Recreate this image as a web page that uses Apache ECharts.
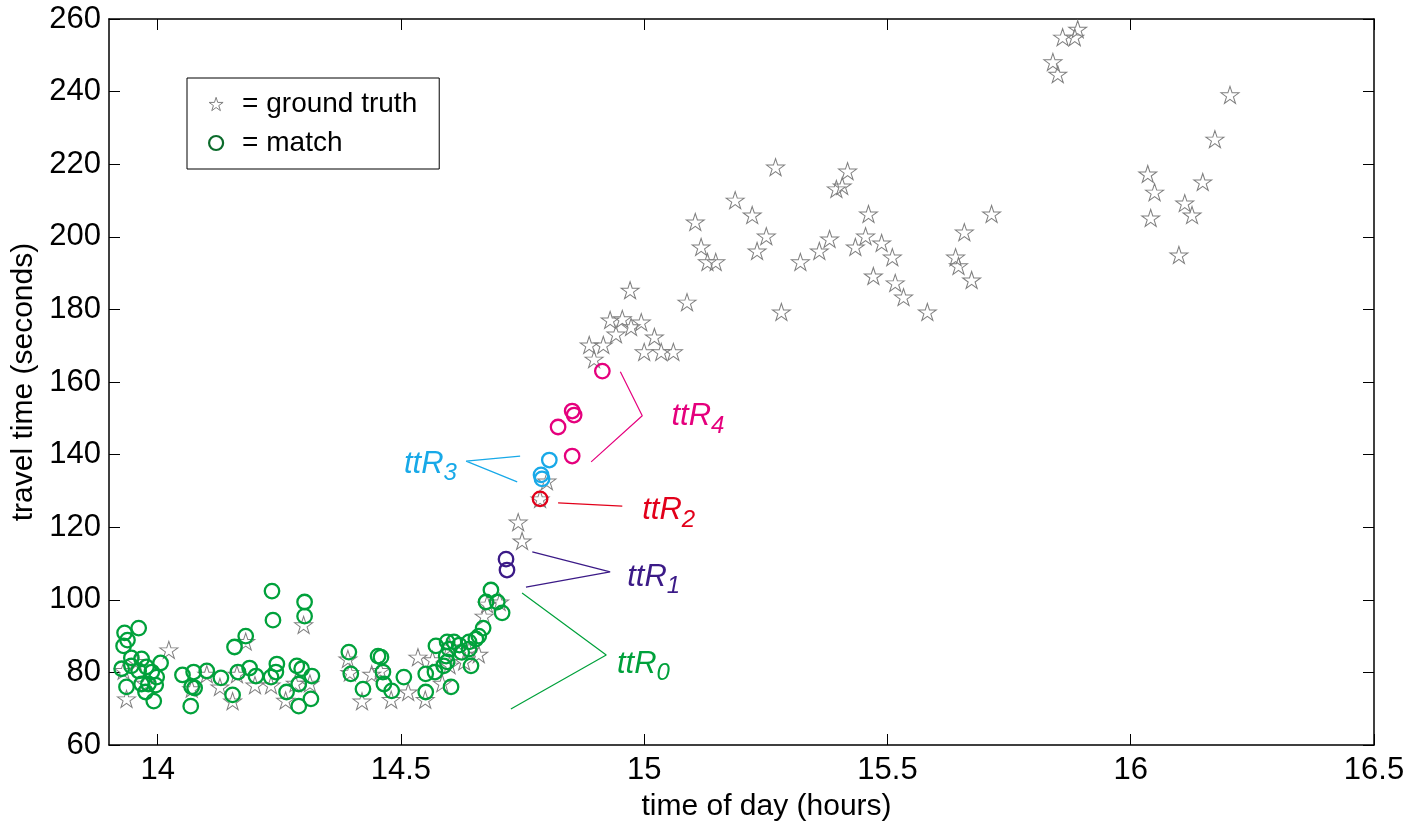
<!DOCTYPE html>
<html>
<head>
<meta charset="utf-8">
<script src="https://cdn.jsdelivr.net/npm/echarts@6/dist/echarts.min.js"></script>
<style>
html,body{margin:0;padding:0;background:#fff;}
#chart{width:1424px;height:829px;}
</style>
</head>
<body>
<div id="chart"></div>
<script>
// ---------- data ----------
const xTicks = [14, 14.5, 15, 15.5, 16, 16.5];
const yTicks = [60, 80, 100, 120, 140, 160, 180, 200, 220, 240, 260];

const groundTruth = [
  [13.936,72.7],[13.93,80.5],[13.955,83],[14.023,86.2],[13.975,77],[14.07,75.5],[14.101,79.5],[14.128,76],
  [14.154,72.1],[14.181,88.5],[14.163,79.5],[14.200,76.5],[14.233,76.5],[14.263,72.3],[14.283,77],[14.313,77],
  [14.300,93.1],[14.391,83.7],[14.395,80],[14.420,72.1],[14.44,79.5],[14.48,72.5],[14.515,74.6],[14.535,84.2],
  [14.550,72.5],[14.565,83.5],[14.585,77],[14.60,82],[14.63,83],[14.671,95.5],[14.703,99.4],[14.677,98.8],
  [14.66,85],[14.64,86],[14.458,80.5],[14.60,87],
  [14.741,121.4],[14.749,116.2],[14.786,127.8],[14.800,132.7],
  [14.887,170.2],[14.916,170.2],[14.897,166.3],[14.930,177.1],[14.955,177.4],[14.994,176.5],[14.973,175.2],
  [14.942,173.2],[15.021,172.4],[14.971,185.3],[15.0,168.3],[15.035,168.3],[15.060,168.3],[15.088,182.0],
  [15.105,204.1],[15.117,197.2],[15.130,193.1],[15.147,193.1],[15.187,210.1],[15.222,206.0],[15.232,196.1],
  [15.251,200.2],[15.270,219.2],[15.282,179.3],[15.321,193.1],[15.360,196.1],[15.381,199.4],[15.395,213.2],
  [15.407,214.0],[15.418,218.1],[15.434,197.2],[15.455,200.2],[15.461,206.3],[15.488,198.3],[15.471,189.2],
  [15.510,194.4],[15.516,187.3],[15.533,183.4],[15.582,179.3],[15.640,194.4],[15.646,192.0],[15.658,201.3],
  [15.673,188.1],[15.714,206.3],[15.840,248.2],[15.850,244.8],[15.860,255.0],[15.885,255.0],[15.891,257.2],
  [16.035,217.3],[16.049,212.3],[16.041,205.2],[16.099,195.0],[16.111,209.3],[16.126,206.0],[16.148,215.1],
  [16.173,226.9],[16.204,239.1]
];

const matchR0 = [
  [13.932,90.9],[13.961,92.2],[13.938,88.9],[13.930,87.3],[13.946,84.0],[13.926,81.0],[13.967,83.7],[14.006,82.6],
  [13.946,81.8],[13.977,81.5],[13.988,80.1],[13.961,80.4],[13.998,78.7],[13.936,76.0],[13.967,76.8],[13.981,76.8],
  [13.996,76.5],[13.975,74.6],[13.992,72.1],[14.051,79.3],[14.074,80.1],[14.101,80.4],[14.070,76.0],[14.076,75.7],
  [14.068,70.7],[14.130,78.5],[14.154,73.8],[14.158,87.0],[14.181,90.0],[14.165,80.1],[14.189,81.2],[14.202,79.0],
  [14.235,102.4],[14.237,94.4],[14.245,82.3],[14.243,80.1],[14.233,78.7],[14.265,74.6],[14.286,81.8],[14.296,81.0],
  [14.290,76.8],[14.290,70.7],[14.315,72.7],[14.302,99.4],[14.302,95.5],[14.317,79.0],
  [14.393,85.6],[14.397,79.6],[14.422,75.4],[14.453,84.5],[14.459,84.2],[14.463,80.1],[14.465,76.8],[14.481,74.9],
  [14.506,78.7],[14.551,79.6],[14.551,74.6],[14.570,80.1],[14.572,87.3],[14.588,81.8],[14.593,84.5],[14.595,88.4],
  [14.595,82.9],[14.599,86.4],[14.609,88.4],[14.603,76.0],[14.640,88.4],[14.644,81.8],[14.640,86.4],[14.654,89.2],
  [14.660,90.0],[14.669,92.2],[14.685,102.7],[14.675,99.4],[14.698,99.4],[14.708,96.4],[14.62,87.5],[14.625,85.5]
];
const matchR1 = [[14.716,111.2],[14.718,108.2]];
const matchR2 = [[14.786,127.8]];
const matchR3 = [[14.805,138.5],[14.788,134.4],[14.790,133.3]];
const matchR4 = [[14.914,163.0],[14.852,152.0],[14.856,150.9],[14.823,147.6],[14.852,139.6]];

// leader lines (data coordinates) and label anchors
const leaderR0 = [[14.749,101.9],[14.922,84.8],[14.726,69.9]];
const leaderR1 = [[14.770,113.2],[14.930,107.7],[14.757,103.5]];
const leaderR2 = [[14.823,126.7],[14.955,125.8]];
const leaderR3 = [[14.745,139.6],[14.634,138.2],[14.739,132.5]];
const leaderR4 = [[14.951,162.8],[14.996,150.7],[14.891,138.0]];
const labelNames = ['0','1','2','3','4'];
const labelAnchors = [[14.944,82.3],[14.965,106.3],[14.996,124.5],[14.615,137.4],[15.056,150.4]];

// ---------- styles ----------
const FONT = 'Liberation Sans, Arial, Helvetica, sans-serif';
const C = ['#00a13b', '#3b1a87', '#e2001a', '#18a9e8', '#e5007d'];
const STAR = 'path://M50,0 L61.2,34.5 L97.6,34.5 L68.2,55.9 L79.4,90.5 L50,69.1 L20.6,90.5 L31.8,55.9 L2.4,34.5 L38.8,34.5 Z';

function circleSeries(name, data, color) {
  return {
    type: 'scatter', name: name, data: data, symbol: 'circle', symbolSize: 14.5, z: 3,
    itemStyle: { color: 'rgba(0,0,0,0)', borderColor: color, borderWidth: 2.3, opacity: 1 },
    emphasis: { disabled: true }
  };
}
function leaderSeries(data, color) {
  return {
    type: 'line', data: data, symbol: 'none', z: 1, silent: true,
    lineStyle: { color: color, width: 1.2, opacity: 1 }
  };
}
function labelSeries(idx) {
  return {
    type: 'scatter', data: [labelAnchors[idx]], symbolSize: 0, silent: true, z: 4,
    itemStyle: { opacity: 1 },
    label: {
      show: true, position: idx === 3 ? 'left' : 'right', distance: 0, opacity: 1,
      formatter: '{a|ttR}{b|' + labelNames[idx] + '}',
      rich: {
        a: { fontSize: 31, fontStyle: 'italic', color: C[idx], fontFamily: FONT, lineHeight: 31, verticalAlign: 'top' },
        b: { fontSize: 24, fontStyle: 'italic', color: C[idx], fontFamily: FONT, lineHeight: 24, padding: [13, 0, 0, 0], verticalAlign: 'top' }
      }
    }
  };
}

const axisLineStyle = { color: '#000', width: 1.5 };
const tickStyle = { color: '#000', width: 1 };

const option = {
  animation: false,
  textStyle: { fontFamily: FONT },
  grid: { left: 109, right: 50, top: 19, bottom: 84, containLabel: false },
  legend: {
    left: 187, top: 78, orient: 'vertical',
    padding: [12, 22, 12, 21], itemGap: 11, itemWidth: 14, itemHeight: 14,
    borderColor: '#000', borderWidth: 1, backgroundColor: '#fff',
    selectedMode: false,
    textStyle: { fontSize: 28, color: '#000', fontFamily: FONT, padding: [0, 0, 0, 14] },
    data: [
      { name: '= ground truth', icon: STAR, itemStyle: { color: 'rgba(0,0,0,0)', borderColor: '#7f7f7f', borderWidth: 1 } },
      { name: '= match', icon: 'circle', itemStyle: { color: 'rgba(0,0,0,0)', borderColor: '#0b6b2b', borderWidth: 2.2 } }
    ]
  },
  xAxis: [{
    type: 'value', min: 13.9, max: 16.5, position: 'bottom',
    axisLine: { show: true, lineStyle: axisLineStyle },
    axisTick: { show: true, inside: true, length: 11, customValues: xTicks, lineStyle: tickStyle },
    axisLabel: { customValues: xTicks, fontSize: 31, color: '#000', margin: 10 },
    splitLine: { show: false },
    name: 'time of day (hours)', nameLocation: 'middle', nameGap: 47,
    nameTextStyle: { fontSize: 30, color: '#000', padding: [0, 0, 0, 50] }
  }, {
    type: 'value', min: 13.9, max: 16.5, position: 'top',
    axisLine: { show: true, lineStyle: axisLineStyle },
    axisTick: { show: true, inside: true, length: 11, customValues: xTicks, lineStyle: tickStyle },
    axisLabel: { show: false }, splitLine: { show: false }
  }],
  yAxis: [{
    type: 'value', min: 60, max: 260, interval: 20, position: 'left',
    axisLine: { show: true, lineStyle: axisLineStyle },
    axisTick: { show: true, inside: true, length: 11, customValues: yTicks, lineStyle: tickStyle },
    axisLabel: { customValues: yTicks, fontSize: 31, color: '#000', margin: 8 },
    splitLine: { show: false },
    name: 'travel time (seconds)', nameLocation: 'middle', nameGap: 64, nameRotate: 90,
    nameTextStyle: { fontSize: 30, color: '#000' }
  }, {
    type: 'value', min: 60, max: 260, interval: 20, position: 'right',
    axisLine: { show: true, lineStyle: axisLineStyle },
    axisTick: { show: true, inside: true, length: 11, customValues: yTicks, lineStyle: tickStyle },
    axisLabel: { show: false }, splitLine: { show: false }
  }],
  series: [
    leaderSeries(leaderR0, C[0]), leaderSeries(leaderR1, C[1]), leaderSeries(leaderR2, C[2]),
    leaderSeries(leaderR3, C[3]), leaderSeries(leaderR4, C[4]),
    {
      type: 'scatter', name: '= ground truth', data: groundTruth, symbol: STAR, symbolSize: [18, 17], z: 2,
      itemStyle: { color: 'rgba(0,0,0,0)', borderColor: '#7f7f7f', borderWidth: 1, opacity: 1 },
      emphasis: { disabled: true }
    },
    circleSeries('= match', matchR0, C[0]),
    circleSeries('ttR1', matchR1, C[1]),
    circleSeries('ttR2', matchR2, C[2]),
    circleSeries('ttR3', matchR3, C[3]),
    circleSeries('ttR4', matchR4, C[4]),
    labelSeries(0), labelSeries(1), labelSeries(2), labelSeries(3), labelSeries(4)
  ]
};

const chart = echarts.init(document.getElementById('chart'), null, { renderer: 'canvas' });
chart.setOption(option);
</script>
</body>
</html>
